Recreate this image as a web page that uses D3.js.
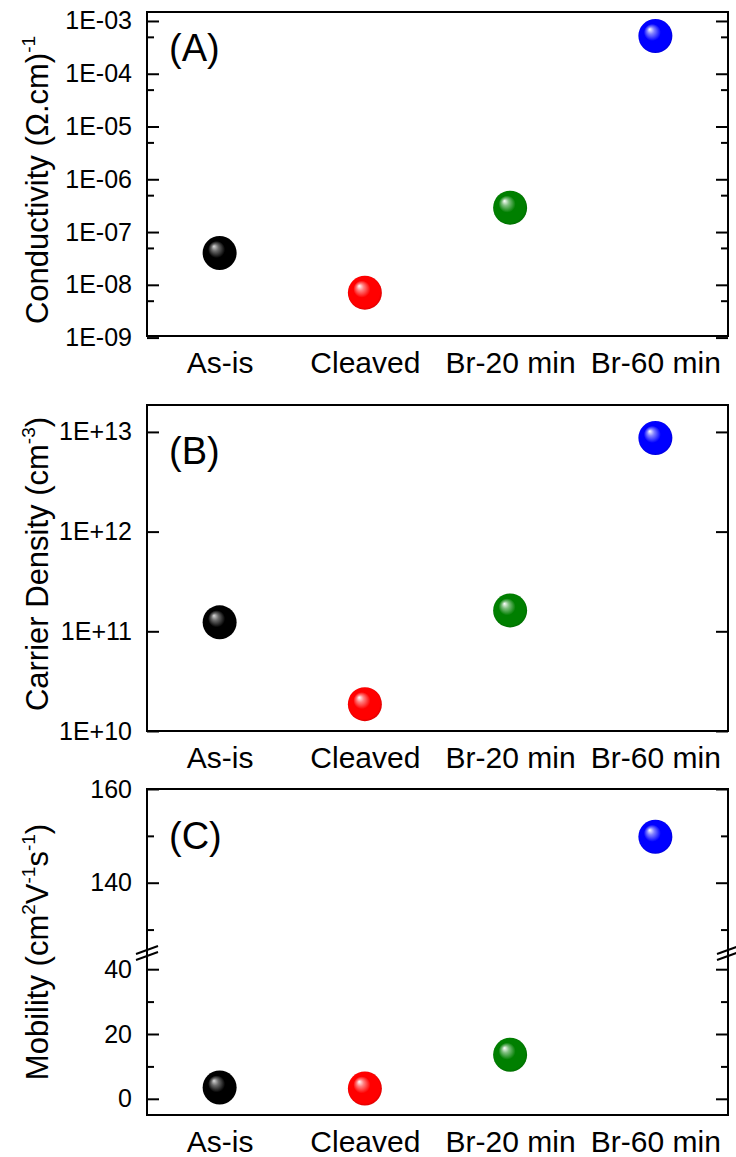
<!DOCTYPE html>
<html>
<head>
<meta charset="utf-8">
<script src="https://cdn.jsdelivr.net/npm/d3@7"></script>
<style>
  body { margin: 0; background: #fff; }
  svg { font-family: "Liberation Sans", Arial, sans-serif; }
  .tick text { fill: #000; }
</style>
</head>
<body>
<svg id="chart" width="736" height="1157"></svg>
<script>
const samples = ['As-is', 'Cleaved', 'Br-20 min', 'Br-60 min'];
const sampleColors = ['#000000', '#ff0000', '#007f00', '#0000ff'];

// values
const conductivity = [4.0e-8, 7.1e-9, 2.9e-7, 5.2e-4];
const carrierDensity = [1.23e11, 1.86e10, 1.62e11, 8.7e12];
const mobility = [3.5, 3.2, 13.6, 149.8];

const conductivityTicks = [1e-3, 1e-4, 1e-5, 1e-6, 1e-7, 1e-8, 1e-9];
const conductivityMinor = [5e-4, 5e-5, 5e-6, 5e-7, 5e-8, 5e-9];
const carrierTicks = [1e13, 1e12, 1e11, 1e10];
const mobilityLowTicks = [0, 20, 40];
const mobilityLowMinor = [10, 30];
const mobilityHighTicks = [140, 160];
const mobilityHighMinor = [130, 150];

const left = 147, right = 728;
const svg = d3.select('#chart');

const x = d3.scalePoint()
  .domain(samples)
  .range([left, right])
  .padding(0.5);

const expFormat = d => {
  const e = Math.round(Math.log10(d));
  return '1E' + (e < 0 ? '-' : '+') + String(Math.abs(e)).padStart(2, '0');
};

// sphere-looking markers
const defs = svg.append('defs');
sampleColors.forEach((c, i) => {
  const g = defs.append('radialGradient')
    .attr('id', 'ball' + i)
    .attr('cx', '50%').attr('cy', '50%').attr('r', '52%')
    .attr('fx', '33%').attr('fy', '30%');
  const hi = i === 0 ? '#d8d8d8' : '#ffffff';
  g.append('stop').attr('offset', '0%').attr('stop-color', hi);
  g.append('stop').attr('offset', '20%').attr('stop-color', d3.interpolateRgb(hi, c)(0.5));
  g.append('stop').attr('offset', '48%').attr('stop-color', c);
  g.append('stop').attr('offset', '88%').attr('stop-color', c);
  g.append('stop').attr('offset', '100%').attr('stop-color', d3.color(c).darker(0.5));
});

function yAxisPair(g, scale, major, minor, fmt) {
  g.append('g')
    .attr('transform', `translate(${left},0)`)
    .call(d3.axisLeft(scale).tickValues(major).tickFormat(fmt).tickSizeInner(-12).tickSizeOuter(0).tickPadding(15))
    .call(a => a.select('.domain').remove())
    .call(a => a.selectAll('.tick line').attr('stroke-width', 2))
    .call(a => a.selectAll('.tick text').attr('font-size', 25));
  g.append('g')
    .attr('transform', `translate(${right},0)`)
    .call(d3.axisRight(scale).tickValues(major).tickFormat('').tickSizeInner(-12).tickSizeOuter(0))
    .call(a => a.select('.domain').remove())
    .call(a => a.selectAll('.tick line').attr('stroke-width', 2));
  if (minor.length) {
    g.append('g')
      .attr('transform', `translate(${left},0)`)
      .call(d3.axisLeft(scale).tickValues(minor).tickFormat('').tickSizeInner(-7).tickSizeOuter(0))
      .call(a => a.select('.domain').remove())
      .call(a => a.selectAll('.tick line').attr('stroke-width', 2));
    g.append('g')
      .attr('transform', `translate(${right},0)`)
      .call(d3.axisRight(scale).tickValues(minor).tickFormat('').tickSizeInner(-7).tickSizeOuter(0))
      .call(a => a.select('.domain').remove())
      .call(a => a.selectAll('.tick line').attr('stroke-width', 2));
  }
}

function panel(p) {
  const g = svg.append('g');

  p.axes(g);

  // frame
  g.append('rect')
    .attr('x', left).attr('y', p.top)
    .attr('width', right - left).attr('height', p.bottom - p.top)
    .attr('fill', 'none').attr('stroke', '#000').attr('stroke-width', 2);

  // category labels
  g.append('g')
    .attr('transform', `translate(0,${p.bottom})`)
    .call(d3.axisBottom(x).tickSize(0).tickPadding(16))
    .call(a => a.select('.domain').remove())
    .call(a => a.selectAll('.tick text').attr('font-size', 30));

  // y title
  const t = g.append('text')
    .attr('transform', `translate(48,${p.titleY}) rotate(-90)`)
    .attr('text-anchor', 'middle')
    .attr('font-size', 31);
  p.title.forEach(part => {
    const s = t.append('tspan').text(part.t);
    if (part.sup) s.attr('font-size', 19).attr('dy', -13);
    else if (part.after) s.attr('dy', 13);
  });

  // panel letter
  g.append('text')
    .attr('x', 169).attr('y', p.letterY)
    .attr('font-size', 38)
    .text(p.letter);

  g.selectAll('circle.pt')
    .data(p.values)
    .join('circle')
    .attr('class', 'pt')
    .attr('cx', (d, i) => x(samples[i]))
    .attr('cy', d => p.y(d))
    .attr('r', 17)
    .attr('fill', (d, i) => `url(#ball${i})`);
}

// (A) conductivity
const yA = d3.scaleLog().domain([Math.pow(10, -8.97), Math.pow(10, -2.83)]).range([336, 12]);
panel({
  top: 12, bottom: 336, titleY: 180, letterY: 61, letter: '(A)',
  y: yA, values: conductivity,
  title: [{ t: 'Conductivity (Ω.cm)' }, { t: '-1', sup: true }],
  axes: g => yAxisPair(g, yA, conductivityTicks, conductivityMinor, expFormat)
});

// (B) carrier density
const yB = d3.scaleLog().domain([1e10, Math.pow(10, 13.27)]).range([731, 405]);
panel({
  top: 405, bottom: 731, titleY: 564, letterY: 464, letter: '(B)',
  y: yB, values: carrierDensity,
  title: [{ t: 'Carrier Density (cm' }, { t: '-3', sup: true }, { t: ')', after: true }],
  axes: g => yAxisPair(g, yB, carrierTicks, [], expFormat)
});

// (C) mobility with broken axis
const breakY = 953;
const yLow = d3.scaleLinear().domain([-5, 45]).range([1115, breakY]);
const yHigh = d3.scaleLinear().domain([125, 160]).range([breakY, 789]);
const yC = v => v >= 125 ? yHigh(v) : yLow(v);
panel({
  top: 789, bottom: 1115, titleY: 952, letterY: 849, letter: '(C)',
  y: yC, values: mobility,
  title: [
    { t: 'Mobility (cm' }, { t: '2', sup: true }, { t: 'V', after: true },
    { t: '-1', sup: true }, { t: 's', after: true }, { t: '-1', sup: true }, { t: ')', after: true }
  ],
  axes: g => {
    yAxisPair(g, yLow, mobilityLowTicks, mobilityLowMinor, d3.format('d'));
    yAxisPair(g, yHigh, mobilityHighTicks, mobilityHighMinor, d3.format('d'));
  }
});

// break marks
[left, right].forEach(ax => {
  [-3, 3].forEach(off => {
    svg.append('line')
      .attr('x1', ax - 11).attr('y1', breakY + off + 4)
      .attr('x2', ax + 11).attr('y2', breakY + off - 4)
      .attr('stroke', '#000').attr('stroke-width', 2);
  });
});
</script>
</body>
</html>
